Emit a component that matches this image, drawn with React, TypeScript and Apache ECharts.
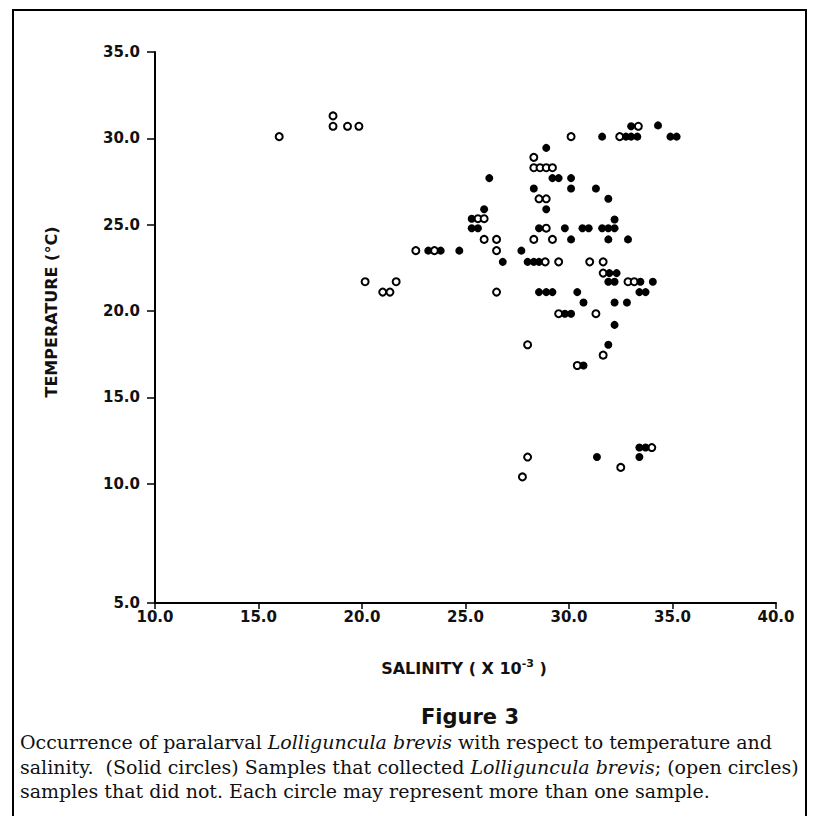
import React, { useEffect, useRef } from "react";
import * as echarts from "echarts";

// [salinity, temperature]
const solidPoints: [number, number][] = [
  [33.0, 30.7], [34.3, 30.75],
  [31.6, 30.1], [32.75, 30.1], [33.0, 30.1], [33.3, 30.1], [34.9, 30.1], [35.2, 30.1],
  [28.9, 29.45],
  [26.15, 27.7], [29.2, 27.7], [29.5, 27.7], [30.1, 27.7],
  [28.3, 27.1], [30.1, 27.1], [31.3, 27.1],
  [31.9, 26.5],
  [25.9, 25.9], [28.9, 25.9],
  [25.3, 25.35], [32.2, 25.3],
  [25.3, 24.8], [25.6, 24.8], [28.55, 24.8], [29.8, 24.8], [30.65, 24.8], [30.95, 24.8], [31.6, 24.8], [31.9, 24.8], [32.2, 24.8],
  [30.1, 24.15], [31.9, 24.15], [32.85, 24.15],
  [23.2, 23.5], [23.8, 23.5], [24.7, 23.5], [27.7, 23.5],
  [26.8, 22.85], [28.0, 22.85], [28.3, 22.85], [28.55, 22.85],
  [31.95, 22.2], [32.3, 22.2],
  [31.9, 21.7], [32.2, 21.7], [33.45, 21.7], [34.05, 21.7],
  [28.55, 21.1], [28.9, 21.1], [29.2, 21.1], [30.4, 21.1], [33.4, 21.1], [33.7, 21.1],
  [30.7, 20.5], [32.2, 20.5], [32.8, 20.5],
  [29.8, 19.85], [30.1, 19.85],
  [32.2, 19.2],
  [31.9, 18.05],
  [30.7, 16.85],
  [33.4, 12.1], [33.7, 12.1],
  [31.35, 11.55], [33.4, 11.55],
];

const openPoints: [number, number][] = [
  [16.0, 30.1],
  [18.6, 31.3], [18.6, 30.7], [19.3, 30.7], [19.85, 30.7],
  [33.35, 30.7],
  [30.1, 30.1], [32.45, 30.1],
  [28.3, 28.9],
  [28.3, 28.3], [28.6, 28.3], [28.9, 28.3], [29.2, 28.3],
  [28.55, 26.5], [28.9, 26.5],
  [25.6, 25.35], [25.9, 25.35],
  [28.9, 24.8],
  [25.9, 24.15], [26.5, 24.15], [28.3, 24.15], [29.2, 24.15],
  [22.6, 23.5], [23.5, 23.5], [26.5, 23.5],
  [28.85, 22.85], [29.5, 22.85], [31.0, 22.85], [31.65, 22.85],
  [31.65, 22.2],
  [20.15, 21.7], [21.65, 21.7], [32.85, 21.7], [33.15, 21.7],
  [21.0, 21.1], [21.35, 21.1], [26.5, 21.1],
  [29.5, 19.85], [31.3, 19.85],
  [28.0, 18.05],
  [31.65, 17.45],
  [30.4, 16.85],
  [34.0, 12.1],
  [28.0, 11.55],
  [32.5, 10.95],
  [27.75, 10.4],
];

const xRange = [10, 40];
const xTickStep = 5;
// The printed y axis is stretched below 10.0: its "5.0" tick sits lower than a linear scale
// would put it, so the axis bottom is placed at the drawn position of that tick.
const yAxisBottom = 3.1;
const yAxisTop = 35;
const yTickValues = [yAxisBottom, 10, 15, 20, 25, 30, 35];
const yTickLabels = ["5.0", "10.0", "15.0", "20.0", "25.0", "30.0", "35.0"];

const xTitle = "SALINITY ( X 10";
const xTitleSup = "-3";
const yTitle = "TEMPERATURE (°C)";
const figureTitle = "Figure 3";
const captionLines = [
  ["Occurrence of paralarval ", "Lolliguncula brevis", " with respect to temperature and"],
  ["salinity.  (Solid circles) Samples that collected ", "Lolliguncula brevis", "; (open circles)"],
  ["samples that did not. Each circle may represent more than one sample.", "", ""],
];

const serif = "DejaVu Serif";
const sans = "DejaVu Sans";

export default function App() {
  const ref = useRef<HTMLDivElement>(null);
  useEffect(() => {
    if (!ref.current) return;
    const chart = echarts.init(ref.current, undefined, { renderer: "svg" });
    const capStyle = { fontFamily: serif, fontSize: 19, fill: "#111" };
    const labelStyle = {
      color: "#111",
      fontFamily: sans,
      fontWeight: "bold",
      fontSize: 15,
    };
    const option: any = {
      animation: false,
      backgroundColor: "#fff",
      grid: { left: 155, top: 52, right: 43, bottom: 213, containLabel: false },
      xAxis: {
        type: "value",
        min: xRange[0],
        max: xRange[1],
        interval: xTickStep,
        splitLine: { show: false },
        axisLine: { lineStyle: { color: "#000", width: 2 } },
        axisTick: { inside: false, length: 6, lineStyle: { color: "#000", width: 1.5 } },
        axisLabel: {
          margin: 6,
          ...labelStyle,
          formatter: (v: number) => v.toFixed(1),
        },
      },
      yAxis: {
        type: "value",
        min: yAxisBottom,
        max: yAxisTop,
        splitLine: { show: false },
        axisLine: { lineStyle: { color: "#000", width: 2 } },
        axisTick: {
          inside: false,
          length: 8,
          customValues: yTickValues,
          lineStyle: { color: "#000", width: 1.5 },
        },
        axisLabel: {
          margin: 15,
          ...labelStyle,
          customValues: yTickValues,
          formatter: (v: number) => {
            const i = yTickValues.findIndex((t) => Math.abs(t - v) < 1e-6);
            return i >= 0 ? yTickLabels[i] : "";
          },
        },
      },
      series: [
        {
          type: "scatter",
          data: openPoints,
          symbol: "circle",
          symbolSize: 7,
          itemStyle: { color: "#fff", borderColor: "#000", borderWidth: 2, opacity: 1 },
          z: 3,
        },
        {
          type: "scatter",
          data: solidPoints,
          symbol: "circle",
          symbolSize: 8,
          itemStyle: { color: "#000", opacity: 1 },
          z: 4,
        },
      ],
      graphic: [
        {
          type: "rect",
          shape: { x: 13, y: 10, width: 793, height: 840 },
          style: { fill: "none", stroke: "#000", lineWidth: 2 },
          silent: true,
        },
        {
          type: "text",
          x: 51,
          y: 312,
          rotation: Math.PI / 2,
          style: {
            text: yTitle,
            fontFamily: sans,
            fontWeight: "bold",
            fontSize: 16,
            fill: "#111",
            align: "center",
            verticalAlign: "middle",
          },
        },
        {
          type: "text",
          x: 464,
          y: 668,
          style: {
            text: xTitle + "{sup|" + xTitleSup + "}" + " )",
            fontFamily: sans,
            fontWeight: "bold",
            fontSize: 16,
            fill: "#111",
            align: "center",
            verticalAlign: "middle",
            rich: {
              sup: {
                fontFamily: sans,
                fontWeight: "bold",
                fontSize: 11,
                padding: [0, 0, 10, 0],
                fill: "#111",
              },
            },
          },
        },
        {
          type: "text",
          x: 470,
          y: 717,
          style: {
            text: figureTitle,
            fontFamily: sans,
            fontWeight: "bold",
            fontSize: 21,
            fill: "#111",
            align: "center",
            verticalAlign: "middle",
          },
        },
        ...captionLines.map((parts, i) => ({
          type: "text",
          x: 20,
          y: 742 + i * 24.5,
          style: {
            text: parts[0] + (parts[1] ? "{i|" + parts[1] + "}" : "") + parts[2],
            ...capStyle,
            align: "left",
            verticalAlign: "middle",
            rich: {
              i: { ...capStyle, fontStyle: "italic" },
            },
          },
        })),
      ],
    };
    chart.setOption(option);
    return () => chart.dispose();
  }, []);
  return (
    <div
      ref={ref}
      style={{ position: "absolute", left: 0, top: 0, width: 819, height: 816 }}
    />
  );
}
